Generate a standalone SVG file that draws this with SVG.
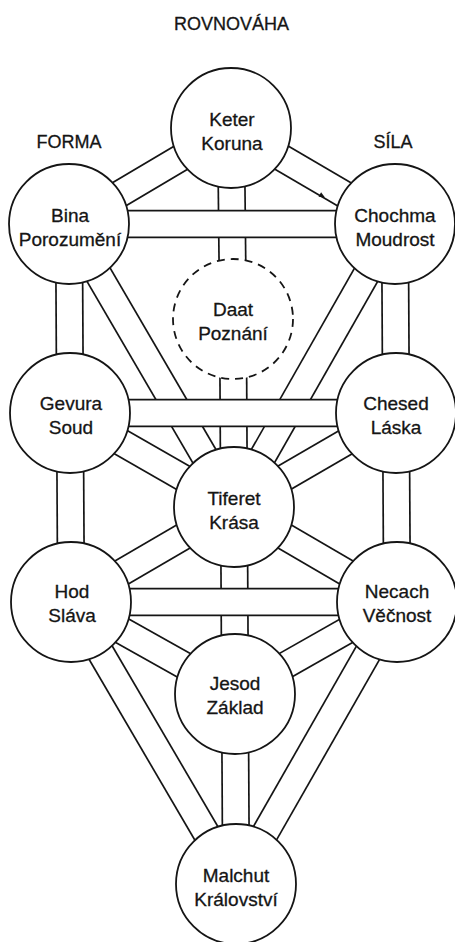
<svg xmlns="http://www.w3.org/2000/svg" width="455" height="942" viewBox="0 0 455 942">
<style>
  .o{stroke:#151515;stroke-width:28.4;fill:none}
  .i{stroke:#fff;stroke-width:25;fill:none}
  .n{fill:#fff;stroke:#151515;stroke-width:1.8}
  .d{fill:#fff;stroke:#151515;stroke-width:1.8;stroke-dasharray:8 6}
  text{font-family:"Liberation Sans",Arial,sans-serif;fill:#151515;stroke:#151515;stroke-width:0.3;text-anchor:middle}
  .t{font-size:19px}
  .h{font-size:18px}
</style>
<rect width="455" height="942" fill="#fff"/>
<g id="labels">
  <text class="h" x="231.5" y="30">ROVNOVÁHA</text>
  <text class="h" x="69" y="148">FORMA</text>
  <text class="h" x="393" y="148">SÍLA</text>
</g>
<g id="connectors">
  <line class="o" x1="231" y1="128" x2="69" y2="224"/><line class="i" x1="231" y1="128" x2="69" y2="224"/>
  <line class="o" x1="231" y1="128" x2="395" y2="224"/><line class="i" x1="231" y1="128" x2="395" y2="224"/>
  <line class="o" x1="231" y1="128" x2="233" y2="319"/><line class="i" x1="231" y1="128" x2="233" y2="319"/>
  <line class="o" x1="233" y1="319" x2="234" y2="507"/><line class="i" x1="233" y1="319" x2="234" y2="507"/>
  <line class="o" x1="69" y1="224" x2="70" y2="413"/><line class="i" x1="69" y1="224" x2="70" y2="413"/>
  <line class="o" x1="395" y1="224" x2="396" y2="413"/><line class="i" x1="395" y1="224" x2="396" y2="413"/>
  <line class="o" x1="69" y1="224" x2="234" y2="507"/><line class="i" x1="69" y1="224" x2="234" y2="507"/>
  <line class="o" x1="395" y1="224" x2="234" y2="507"/><line class="i" x1="395" y1="224" x2="234" y2="507"/>
  <line class="o" x1="70" y1="413" x2="234" y2="507"/><line class="i" x1="70" y1="413" x2="234" y2="507"/>
  <line class="o" x1="396" y1="413" x2="234" y2="507"/><line class="i" x1="396" y1="413" x2="234" y2="507"/>
  <line class="o" x1="70" y1="413" x2="71" y2="602"/><line class="i" x1="70" y1="413" x2="71" y2="602"/>
  <line class="o" x1="396" y1="413" x2="397" y2="602"/><line class="i" x1="396" y1="413" x2="397" y2="602"/>
  <line class="o" x1="71" y1="602" x2="234" y2="507"/><line class="i" x1="71" y1="602" x2="234" y2="507"/>
  <line class="o" x1="397" y1="602" x2="234" y2="507"/><line class="i" x1="397" y1="602" x2="234" y2="507"/>
  <line class="o" x1="234" y1="507" x2="235" y2="694"/><line class="i" x1="234" y1="507" x2="235" y2="694"/>
  <line class="o" x1="71" y1="602" x2="235" y2="694"/><line class="i" x1="71" y1="602" x2="235" y2="694"/>
  <line class="o" x1="397" y1="602" x2="235" y2="694"/><line class="i" x1="397" y1="602" x2="235" y2="694"/>
  <line class="o" x1="71" y1="602" x2="236" y2="884"/><line class="i" x1="71" y1="602" x2="236" y2="884"/>
  <line class="o" x1="397" y1="602" x2="236" y2="884"/><line class="i" x1="397" y1="602" x2="236" y2="884"/>
  <line class="o" x1="235" y1="694" x2="236" y2="884"/><line class="i" x1="235" y1="694" x2="236" y2="884"/>
  <line class="o" x1="69" y1="224" x2="395" y2="224"/><line class="i" x1="69" y1="224" x2="395" y2="224"/>
  <line class="o" x1="70" y1="413" x2="396" y2="413"/><line class="i" x1="70" y1="413" x2="396" y2="413"/>
  <line class="o" x1="71" y1="602" x2="397" y2="602"/><line class="i" x1="71" y1="602" x2="397" y2="602"/>
  <polygon points="325,197.5 318.5,196.7 321.1,192.3" fill="#151515"/>
</g>
<g id="keter"><circle class="n" cx="231" cy="128" r="60"/><text class="t" x="232" y="126">Keter</text><text class="t" x="232" y="150">Koruna</text></g>
<g id="bina"><circle class="n" cx="69" cy="224" r="60"/><text class="t" x="70" y="222">Bina</text><text class="t" x="70" y="246">Porozumění</text></g>
<g id="chochma"><circle class="n" cx="395" cy="224" r="60"/><text class="t" x="395" y="222">Chochma</text><text class="t" x="395" y="246">Moudrost</text></g>
<g id="daat"><circle class="d" cx="233" cy="319" r="60"/><text class="t" x="233" y="316">Daat</text><text class="t" x="233" y="340">Poznání</text></g>
<g id="gevura"><circle class="n" cx="70" cy="413" r="60"/><text class="t" x="71" y="410">Gevura</text><text class="t" x="71" y="434">Soud</text></g>
<g id="chesed"><circle class="n" cx="396" cy="413" r="60"/><text class="t" x="396" y="410">Chesed</text><text class="t" x="396" y="434">Láska</text></g>
<g id="tiferet"><circle class="n" cx="234" cy="507" r="60"/><text class="t" x="234" y="505">Tiferet</text><text class="t" x="234" y="529">Krása</text></g>
<g id="hod"><circle class="n" cx="71" cy="602" r="60"/><text class="t" x="72" y="598">Hod</text><text class="t" x="72" y="622">Sláva</text></g>
<g id="necach"><circle class="n" cx="397" cy="602" r="60"/><text class="t" x="397" y="598">Necach</text><text class="t" x="397" y="622">Věčnost</text></g>
<g id="jesod"><circle class="n" cx="235" cy="694" r="60"/><text class="t" x="235" y="690">Jesod</text><text class="t" x="235" y="714">Základ</text></g>
<g id="malchut"><circle class="n" cx="236" cy="884" r="60"/><text class="t" x="236" y="882">Malchut</text><text class="t" x="236" y="906">Království</text></g>
</svg>
